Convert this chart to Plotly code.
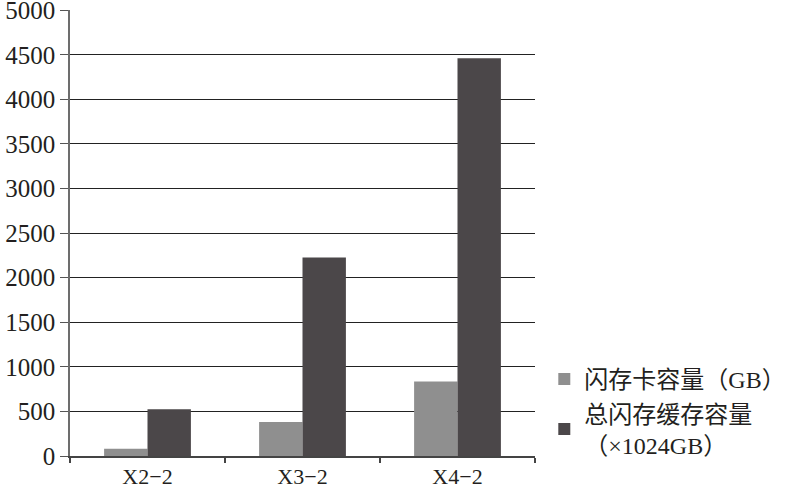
import plotly.graph_objects as go

categories = ["X2\u22122", "X3\u22122", "X4\u22122"]
flash_card_gb = [80, 380, 835]
total_flash_cache = [525, 2225, 4460]
series_names = ["闪存卡容量（GB）", "总闪存缓存容量<br>（×1024GB）"]
y_ticks = [0, 500, 1000, 1500, 2000, 2500, 3000, 3500, 4000, 4500, 5000]

font_family = "Liberation Serif, Noto Sans CJK SC, serif"

fig = go.Figure()
fig.add_trace(go.Bar(x=categories, y=flash_card_gb, name=series_names[0],
                     marker=dict(color="#8f8f8f", line=dict(width=0))))
fig.add_trace(go.Bar(x=categories, y=total_flash_cache, name=series_names[1],
                     marker=dict(color="#4b4749", line=dict(width=0))))

fig.update_layout(
    width=786, height=487,
    margin=dict(l=70, r=251, t=10, b=31, autoexpand=False),
    paper_bgcolor="white", plot_bgcolor="white",
    barmode="group", bargap=0.44, bargroupgap=0,
    font=dict(family=font_family, size=25, color="#231f20"),
    showlegend=True,
    legend=dict(x=1.02, y=0.222, xanchor="left", yanchor="top",
                font=dict(size=24, family=font_family, color="#231f20"),
                itemwidth=30, tracegroupgap=0, bgcolor="rgba(0,0,0,0)"),
    xaxis=dict(
        type="category", showline=True, linecolor="#444444", linewidth=1.5,
        ticks="outside", tickson="boundaries", ticklen=5, tickcolor="#444444",
        tickwidth=1.5, showgrid=False, tickfont=dict(size=22), automargin=False,
    ),
    yaxis=dict(
        range=[0, 5002], tickvals=y_ticks, showline=True, linecolor="#6d6d6d",
        linewidth=1.5, ticks="outside", ticklen=8, tickcolor="#555555",
        showgrid=True, gridcolor="#222222", gridwidth=1, zeroline=False,
        tickfont=dict(size=25), ticklabelstandoff=0, automargin=False,
        ticklabeloverflow="allow",
    ),
)

fig.write_html("out.html", config={"displayModeBar": False},
               post_script="document.body.style.margin='0';")
